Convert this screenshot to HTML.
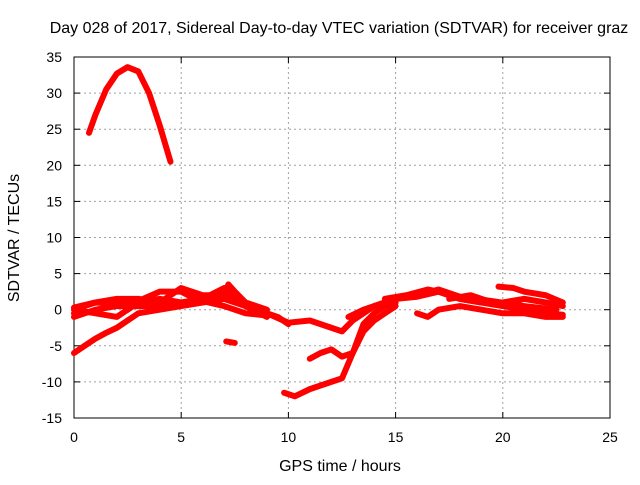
<!DOCTYPE html>
<html><head><meta charset="utf-8"><style>
body{margin:0;background:#fff}
svg text{font-family:"Liberation Sans",sans-serif;font-size:14px;fill:#000}
svg text.big{font-size:16px}
</style></head><body>
<svg width="640" height="480">
<g id="grid"></g><g id="axes"></g><g id="series"></g>
<text class="big" x="339" y="33" text-anchor="middle">Day 028 of 2017, Sidereal Day-to-day VTEC variation (SDTVAR) for receiver graz</text>
<text class="big" x="340" y="471" text-anchor="middle">GPS time / hours</text>
<text class="big" transform="translate(19,238) rotate(-90)" text-anchor="middle">SDTVAR / TECUs</text>
</svg>
<script>
const xTicks=[0,5,10,15,20,25];
const yTicks=[-15,-10,-5,0,5,10,15,20,25,30,35];
const tracks=[
[[0.7,24.5],[1,27],[1.5,30.5],[2,32.7],[2.5,33.6],[3,33],[3.5,30],[4,25.5],[4.5,20.5]],
[[0,-6],[0.5,-5],[1,-4],[1.5,-3.2],[2,-2.5],[2.5,-1.5],[3,-0.5],[4,0],[5,0.5],[6,1],[7,1.5],[8,0.5],[9,-0.5],[10,-1.8],[11,-1.5],[12,-2.5],[12.5,-3],[13,-1.5],[14,0.5],[15,1.5],[16,1.8],[17,2.5],[18,1.5],[19,1],[20,0.5],[21,0],[22,-0.5],[22.8,-0.7]],
[[0,-0.5],[0.5,0.5],[1,1],[2,1.5],[3,1.5],[4,1],[4.5,2],[5,3],[6,2],[7,2],[7.2,3.5],[7.5,2.5],[8,1],[8.5,0],[9,-0.5],[9.5,-1],[10,-2]],
[[0,-1],[1,0],[2,0.5],[3,0.5],[4,0.5],[5,1],[6,1.2],[7,0.5],[8,-0.5],[9,-0.8]],
[[0,0],[1,-0.5],[2,-1],[2.5,0],[3,1],[4,1.5],[5,1],[6,1.5],[7,3],[8,1],[9,0]],
[[0,0.3],[1,1],[2,0.8],[3,1.2],[4,2.5],[5,2.5],[6,1],[7,2.5],[8,0.5],[9,-1]],
[[7.1,-4.4],[7.5,-4.6]],
[[11,-6.8],[11.5,-6],[12,-5.5],[12.5,-6.5],[13,-6],[13.5,-2],[14,-0.5],[14.5,0.5],[15,1]],
[[9.8,-11.5],[10.3,-12],[11,-11],[11.5,-10.5],[12,-10],[12.5,-9.5],[13,-6],[13.5,-3],[14,-1.5],[15,0.5]],
[[12.8,-1],[13.5,0],[14.5,1]],
[[14.5,1.5],[15.5,2],[16.5,2.8],[17,2.5],[18,1.5],[19,1],[20,1],[21,1.5],[22,1],[22.8,0.5]],
[[16,-0.5],[16.5,-1],[17,0],[18,0.5],[19,0],[20,-0.5],[21,-0.5],[22,-1],[22.8,-1]],
[[19.8,3.2],[20.5,3],[21,2.5],[22,2],[22.8,1]],
[[17.5,1.5],[18.5,2],[19,1.5],[20,0.5]],
[[16,2],[17,2.8],[18,1.8],[19.5,1.2],[21,0.5],[22.5,0]]
];
const X0=74,X1=610,Y0=418,Y1=57;
const sx=v=>X0+(v-0)/25*(X1-X0);
const sy=v=>Y0-(v+15)/50*(Y0-Y1);
const NS='http://www.w3.org/2000/svg';
const mk=(t,a,p)=>{const e=document.createElementNS(NS,t);for(const k in a)e.setAttribute(k,a[k]);p.appendChild(e);return e;};
const grid=document.getElementById('grid'),axes=document.getElementById('axes'),ser=document.getElementById('series');
xTicks.forEach(t=>{const x=sx(t);
 if(t>0&&t<25){const l=mk('line',{x1:x,x2:x,y1:Y1,y2:Y0,stroke:'#a0a0a0','stroke-dasharray':'2,3'},grid);}
 mk('line',{x1:x,x2:x,y1:Y0,y2:Y0-6,stroke:'#000'},axes);mk('line',{x1:x,x2:x,y1:Y1,y2:Y1+6,stroke:'#000'},axes);
 const tx=mk('text',{x:x,y:Y0+24,'text-anchor':'middle'},axes);tx.textContent=t;
 });
yTicks.forEach(t=>{const y=sy(t);
 if(t>-15&&t<35){const l=mk('line',{x1:X0,x2:X1,y1:y,y2:y,stroke:'#a0a0a0','stroke-dasharray':'2,3'},grid);}
 mk('line',{x1:X0,x2:X0+6,y1:y,y2:y,stroke:'#000'},axes);mk('line',{x1:X1,x2:X1-6,y1:y,y2:y,stroke:'#000'},axes);
 const tx=mk('text',{x:X0-12,y:y+5,'text-anchor':'end'},axes);tx.textContent=t;
 });
const fr=mk('rect',{x:X0,y:Y1,width:X1-X0,height:Y0-Y1,fill:'none',stroke:'#000'},axes);

tracks.forEach(tr=>{const p=mk('polyline',{points:tr.map(d=>sx(d[0])+','+sy(d[1])).join(' '),fill:'none',stroke:'#ff0000','stroke-width':6,'stroke-linejoin':'round','stroke-linecap':'round'},ser);
 });
</script>
</body></html>
